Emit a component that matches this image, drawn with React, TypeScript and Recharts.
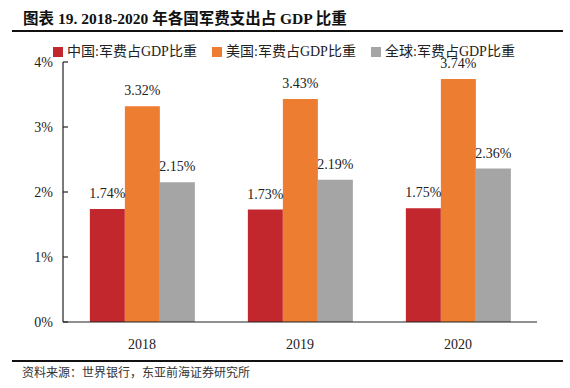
import React from 'react';
import { BarChart, Bar, XAxis, YAxis, Legend, LabelList } from 'recharts';

const categories = ['2018', '2019', '2020'];
const chinaValues = [1.74, 1.73, 1.75];
const usValues = [3.32, 3.43, 3.74];
const globalValues = [2.15, 2.19, 2.36];
const yTicks = [0, 1, 2, 3, 4];
const seriesNames = ['中国:军费占GDP比重', '美国:军费占GDP比重', '全球:军费占GDP比重'];
const seriesColors = ['#C1272D', '#ED7D31', '#A5A5A5'];

const data = categories.map((c, i) => ({
  year: c,
  china: chinaValues[i],
  us: usValues[i],
  global: globalValues[i],
}));

const SERIF = '"Liberation Serif", "Times New Roman", "Noto Sans CJK SC", serif';
const CJK = '"Liberation Serif", "Noto Sans CJK SC", serif';

const renderLegend = () => (
  <div style={{ display: 'flex', alignItems: 'center', fontFamily: CJK, fontSize: 14, color: '#222', height: 16 }}>
    {seriesNames.map((n, i) => (
      <div key={n} style={{ display: 'flex', alignItems: 'center', width: i < 2 ? 159 : 150 }}>
        <span style={{ display: 'inline-block', width: 10, height: 10, background: seriesColors[i], marginRight: 4 }} />
        <span style={{ whiteSpace: 'nowrap', lineHeight: '16px' }}>{n}</span>
      </div>
    ))}
  </div>
);

const fmt = (v: number) => `${v.toFixed(2)}%`;

export default function App() {
  return (
    <div style={{ position: 'absolute', left: 0, top: 0, width: 570, height: 388, background: '#fff', overflow: 'hidden' }}>
      <div style={{ position: 'absolute', left: 23, top: 9, fontFamily: SERIF, fontWeight: 'bold', fontSize: 15.5, color: '#111', whiteSpace: 'nowrap', lineHeight: '20px' }}>
        图表 19. 2018-2020 年各国军费支出占 GDP 比重
      </div>
      <div style={{ position: 'absolute', left: 12, top: 30, width: 551, height: 2, background: '#111' }} />
      <BarChart
        width={570}
        height={388}
        data={data}
        margin={{ top: 46, right: 33, bottom: 36, left: 13 }}
        barCategoryGap="17%"
        barGap={0}
      >
        <Legend
          verticalAlign="top"
          height={16}
          content={renderLegend}
          wrapperStyle={{ position: 'absolute', top: 44, left: 53, width: 480, height: 16 }}
        />
        <XAxis
          dataKey="year"
          height={30}
          axisLine={{ stroke: '#222', strokeWidth: 1.2 }}
          tickLine={false}
          tickSize={6}
          tickMargin={11}
          tick={{ fill: '#222', fontSize: 14, fontFamily: SERIF }}
        />
        <YAxis
          width={50}
          domain={[0, 4]}
          ticks={yTicks}
          tickFormatter={(v: number) => `${v}%`}
          axisLine={{ stroke: '#222', strokeWidth: 1.2 }}
          tickLine={{ stroke: '#222', strokeWidth: 1.2 }}
          tickSize={-5}
          tickMargin={15}
          tick={{ fill: '#222', fontSize: 14, fontFamily: SERIF }}
        />
        <Bar dataKey="china" name={seriesNames[0]} fill={seriesColors[0]} isAnimationActive={false}>
          <LabelList dataKey="china" position="top" offset={11} formatter={fmt} style={{ fill: '#222', fontSize: 14, fontFamily: SERIF }} />
        </Bar>
        <Bar dataKey="us" name={seriesNames[1]} fill={seriesColors[1]} isAnimationActive={false}>
          <LabelList dataKey="us" position="top" offset={11} formatter={fmt} style={{ fill: '#222', fontSize: 14, fontFamily: SERIF }} />
        </Bar>
        <Bar dataKey="global" name={seriesNames[2]} fill={seriesColors[2]} isAnimationActive={false}>
          <LabelList dataKey="global" position="top" offset={11} formatter={fmt} style={{ fill: '#222', fontSize: 14, fontFamily: SERIF }} />
        </Bar>
      </BarChart>
      <div style={{ position: 'absolute', left: 12, top: 360, width: 551, height: 2, background: '#111' }} />
      <div style={{ position: 'absolute', left: 22, top: 366, fontFamily: CJK, fontSize: 12, color: '#333', whiteSpace: 'nowrap', lineHeight: '14px' }}>
        资料来源：世界银行，东亚前海证券研究所
      </div>
    </div>
  );
}
